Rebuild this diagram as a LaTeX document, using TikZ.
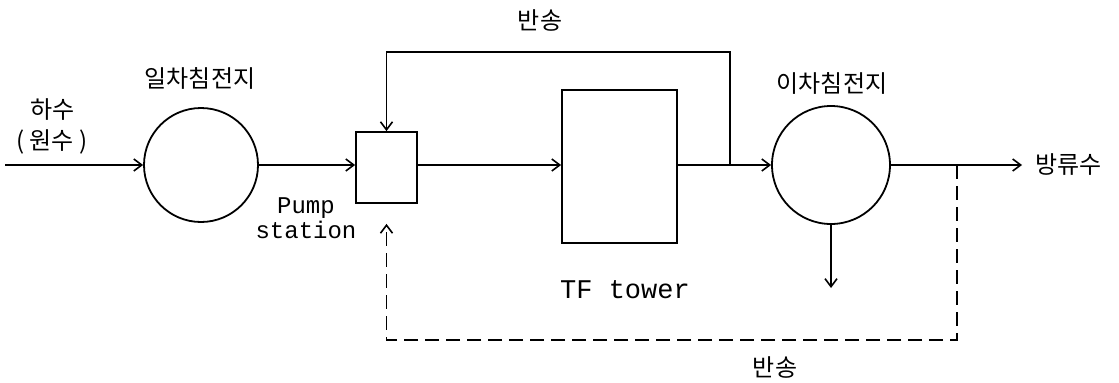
\documentclass[tikz,border=0pt]{standalone}
\usepackage{fontspec}
\newfontfamily\kofont{Noto Sans CJK KR}
\newfontfamily\monofont{Liberation Mono}
\usetikzlibrary{arrows.meta,calc,positioning}
\tikzset{
  flow/.style={line width=0.9pt,-{Straight Barb[length=4pt,width=6pt,line width=0.8pt]}},
  tank/.style={draw,circle,line width=0.9pt,inner sep=0pt},
  unit/.style={draw,rectangle,line width=0.9pt,inner sep=0pt},
  kolab/.style={font=\kofont\fontsize{12}{14}\selectfont},
  enlab/.style={font=\monofont\fontsize{12}{12.5}\selectfont}
}
\begin{document}
\begin{tikzpicture}[x=0.5pt,y=0.5pt]
\useasboundingbox (0,0) rectangle (1119,382);
% tanks and units
\node[tank,minimum size=57pt] (pst) at (201,217) {};
\node[unit,minimum width=30.5pt,minimum height=35.5pt] (pump) at (386.5,214.5) {};
\node[unit,minimum width=57.5pt,minimum height=76.5pt] (tf) at (619.5,215.5) {};
\node[tank,minimum size=59pt] (sst) at (831,217) {};
\coordinate (in) at (5,217);
\coordinate (jn) at (730,217);
\coordinate (out) at (1022,217);
\coordinate (sludge) at (831,94);
\coordinate (tap) at (957,217);
% labels
\node[kolab] (pstlab) at (200,304) {일차침전지};
\node[kolab] (sstlab) at (832,299) {이차침전지};
\node[kolab] (rettop) at (540,362) {반송};
\node[kolab] (retbot) at (775,15) {반송};
\node[kolab] (raw) at (53,272) {하수};
\node[kolab] (raw2) at (52,240) {(\ 원수\ )};
\node[kolab,anchor=west] (eff) at (1028,217) {방류수};
\node[enlab,align=center] (pumplab) at (306,164) {Pump\\station};
\node[enlab,font=\monofont\fontsize{13.5}{14}\selectfont] (tflab) at (625,92) {TF tower};
% main flow
\draw[flow] (in) -- (pst.west);
\draw[flow] (pst.east) -- (pst.east -| pump.west);
\draw[flow] (pump.east |- pst.east) -- (tf.west |- pst.east);
\draw[flow] (tf.east |- jn) -- (sst.west);
\draw[flow] (sst.east) -- (out);
\draw[flow] (sst.south) -- (sludge);
% return lines
\draw[flow] (jn) -- (730,330) -- (730,330 -| pump.north) -- (pump.north);
\draw[flow,dashed,dash pattern=on 7pt off 3.5pt,shorten >=10pt] (tap) -- (957,42) -- (957,42 -| pump.south) -- (pump.south);
\end{tikzpicture}
\end{document}
